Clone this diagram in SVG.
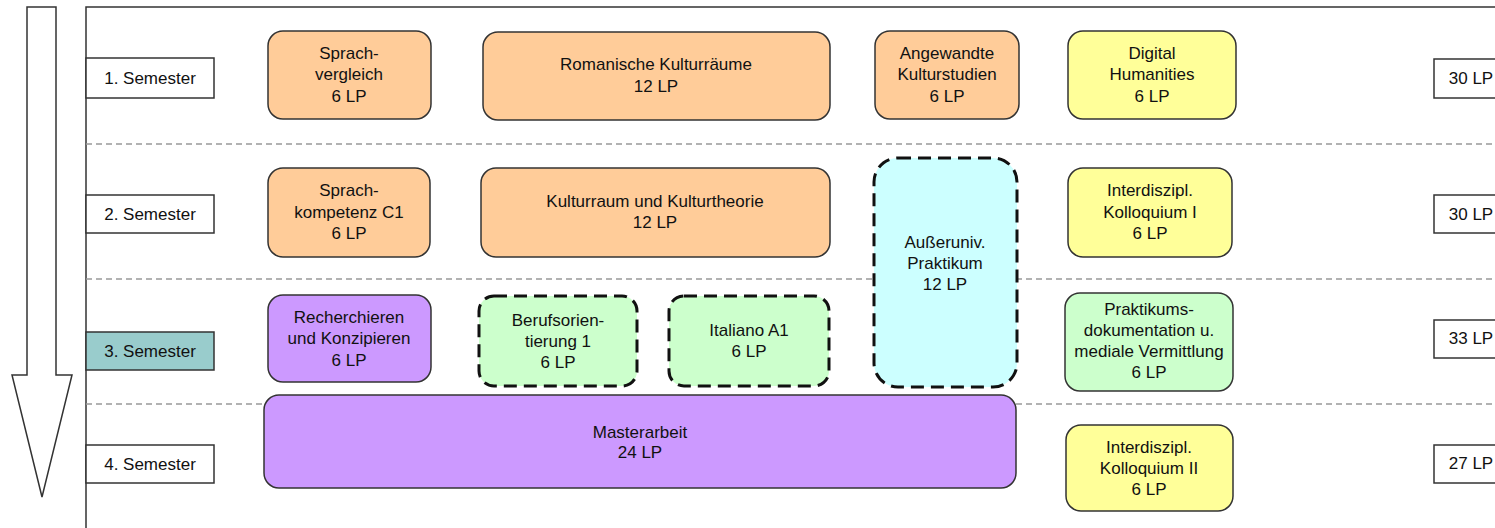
<svg xmlns="http://www.w3.org/2000/svg" width="1495" height="528" viewBox="0 0 1495 528">
<style>
text{font-family:"Liberation Sans",Arial,sans-serif;font-size:17px;fill:#111;text-anchor:middle}
.frame{stroke:#333;stroke-width:1.5;fill:none}
.sep{stroke:#999;stroke-width:1.3;stroke-dasharray:6 4;fill:none}
.lbl{fill:#fff;stroke:#333;stroke-width:1.5}
.box{stroke:#333;stroke-width:1.5}
.dash{stroke:#111;stroke-width:3;stroke-dasharray:13 7}
.or{fill:#FFCC99}.ye{fill:#FFFF99}.cy{fill:#CCFFFF}.gr{fill:#CCFFCC}.pu{fill:#CC99FF}
</style>
<rect width="1495" height="528" fill="#fff"/>
<g id="frame">
<path class="frame" d="M86 528 V7 H1495"/>
<path class="sep" d="M86 144 H1495"/>
<path class="sep" d="M86 279 H1495"/>
<path class="sep" d="M86 404 H1495"/>
</g>
<g id="connectors">
<polygon points="27,7 56,7 56,375 72,375 42,497 12,375 27,375" fill="#fff" stroke="#333" stroke-width="1.5"/>
</g>
<g id="sem1"><rect class="lbl" x="86" y="58" width="128" height="40"/><text x="150" y="84">1. Semester</text></g>
<g id="sem2"><rect class="lbl" x="86" y="195" width="128" height="38"/><text x="150" y="220">2. Semester</text></g>
<g id="sem3"><rect class="lbl" x="86" y="332" width="128" height="38" style="fill:#99CCCC"/><text x="150" y="357">3. Semester</text></g>
<g id="sem4"><rect class="lbl" x="86" y="445" width="128" height="38"/><text x="150" y="470">4. Semester</text></g>
<g id="lp1"><rect class="lbl" x="1434" y="59" width="70" height="39"/><text x="1471" y="84">30 LP</text></g>
<g id="lp2"><rect class="lbl" x="1434" y="195" width="70" height="38"/><text x="1471" y="220">30 LP</text></g>
<g id="lp3"><rect class="lbl" x="1434" y="320" width="70" height="38"/><text x="1471" y="344">33 LP</text></g>
<g id="lp4"><rect class="lbl" x="1434" y="445" width="70" height="38"/><text x="1471" y="469">27 LP</text></g>
<g id="sprachvergleich"><rect class="box or" x="268" y="31" width="163" height="88" rx="15"/><text x="349" y="59">Sprach-</text><text x="349" y="80">vergleich</text><text x="349" y="102">6 LP</text></g>
<g id="romanische"><rect class="box or" x="483" y="32" width="347" height="88" rx="15"/><text x="656" y="70">Romanische Kulturräume</text><text x="656" y="92">12 LP</text></g>
<g id="angewandte"><rect class="box or" x="875" y="31" width="144" height="88" rx="15"/><text x="947" y="59">Angewandte</text><text x="947" y="80">Kulturstudien</text><text x="947" y="102">6 LP</text></g>
<g id="digital"><rect class="box ye" x="1068" y="31" width="168" height="88" rx="15"/><text x="1152" y="59">Digital</text><text x="1152" y="80">Humanities</text><text x="1152" y="102">6 LP</text></g>
<g id="sprachkompetenz"><rect class="box or" x="268" y="168" width="162" height="89" rx="15"/><text x="349" y="196">Sprach-</text><text x="349" y="218">kompetenz C1</text><text x="349" y="239">6 LP</text></g>
<g id="kulturraum"><rect class="box or" x="481" y="168" width="349" height="89" rx="15"/><text x="655" y="207">Kulturraum und Kulturtheorie</text><text x="655" y="228">12 LP</text></g>
<g id="praktikum"><rect class="dash cy" x="874" y="158" width="143" height="229" rx="24"/><text x="945" y="248">Außeruniv.</text><text x="945" y="269">Praktikum</text><text x="945" y="290">12 LP</text></g>
<g id="kolloquium1"><rect class="box ye" x="1068" y="168" width="164" height="89" rx="15"/><text x="1150" y="196">Interdiszipl.</text><text x="1150" y="218">Kolloquium I</text><text x="1150" y="239">6 LP</text></g>
<g id="recherchieren"><rect class="box pu" x="268" y="295" width="163" height="87" rx="15"/><text x="349" y="323">Recherchieren</text><text x="349" y="344">und Konzipieren</text><text x="349" y="366">6 LP</text></g>
<g id="berufsorientierung"><rect class="dash gr" x="479" y="296" width="158" height="90" rx="15"/><text x="558" y="326">Berufsorien-</text><text x="558" y="347">tierung 1</text><text x="558" y="368">6 LP</text></g>
<g id="italiano"><rect class="dash gr" x="669" y="296" width="160" height="90" rx="15"/><text x="749" y="336">Italiano A1</text><text x="749" y="357">6 LP</text></g>
<g id="dokumentation"><rect class="box gr" x="1065" y="293" width="168" height="98" rx="15"/><text x="1149" y="315">Praktikums-</text><text x="1149" y="336">dokumentation u.</text><text x="1149" y="357">mediale Vermittlung</text><text x="1149" y="378">6 LP</text></g>
<g id="masterarbeit"><rect class="box pu" x="264" y="395" width="752" height="93" rx="15"/><text x="640" y="438">Masterarbeit</text><text x="640" y="458">24 LP</text></g>
<g id="kolloquium2"><rect class="box ye" x="1066" y="425" width="167" height="86" rx="15"/><text x="1149" y="453">Interdiszipl.</text><text x="1149" y="474">Kolloquium II</text><text x="1149" y="495">6 LP</text></g>
</svg>
